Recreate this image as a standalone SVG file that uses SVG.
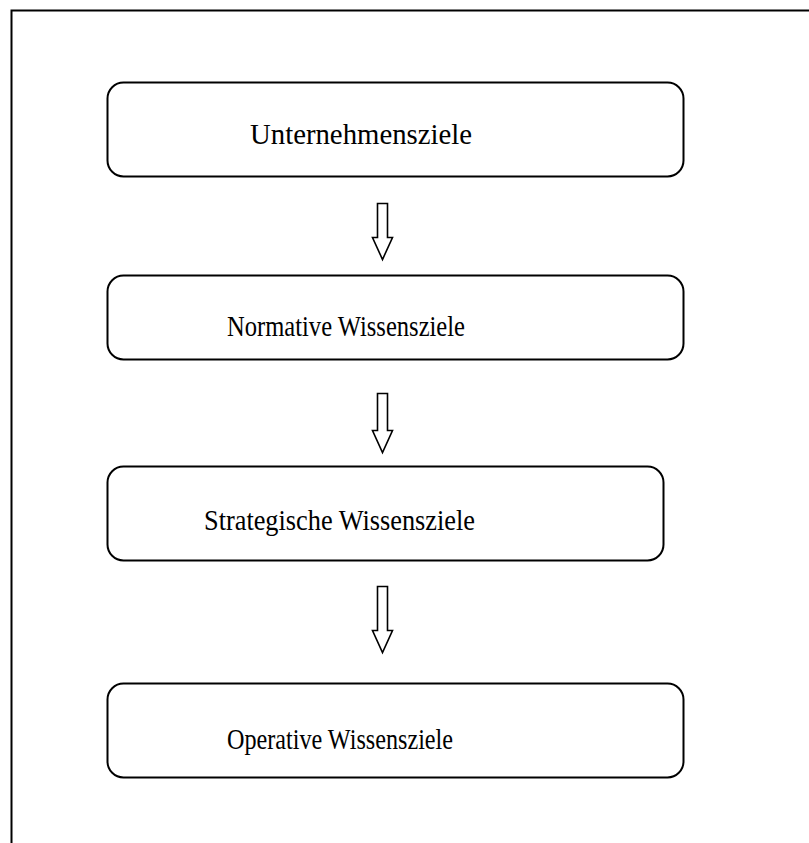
<svg xmlns="http://www.w3.org/2000/svg" width="809" height="843" viewBox="0 0 809 843">
  <style>
    .frame { fill: none; stroke: #000; stroke-width: 2; }
    .box { fill: #fff; stroke: #000; stroke-width: 2; }
    .label { font-family: "Liberation Serif", "Times New Roman", serif; font-size: 30px; fill: #000; }
    .arrow { fill: #fff; stroke: #000; stroke-width: 1.6; stroke-linejoin: miter; }
  </style>
  <rect width="809" height="843" fill="#fff"/>
  <!-- outer frame, open at right and bottom -->
  <path class="frame" d="M11.5,843 V10.5 H809"/>

  <g id="unternehmensziele">
    <rect class="box" x="107.5" y="82.5" width="576" height="94" rx="16"/>
    <text class="label" x="250" y="144" textLength="222" lengthAdjust="spacingAndGlyphs">Unternehmensziele</text>
  </g>
  <g id="normative">
    <rect class="box" x="107.5" y="275.5" width="576" height="84" rx="16"/>
    <text class="label" x="227" y="336" textLength="238" lengthAdjust="spacingAndGlyphs">Normative Wissensziele</text>
  </g>
  <g id="strategische">
    <rect class="box" x="107.5" y="466.5" width="556" height="94" rx="16"/>
    <text class="label" x="204" y="530" textLength="271" lengthAdjust="spacingAndGlyphs">Strategische Wissensziele</text>
  </g>
  <g id="operative">
    <rect class="box" x="107.5" y="683.5" width="576" height="94" rx="16"/>
    <text class="label" x="227" y="749" textLength="226" lengthAdjust="spacingAndGlyphs">Operative Wissensziele</text>
  </g>

  <g id="connectors">
    <path class="arrow" d="M377.5,203.5 H387.5 V237.5 H392.5 L382.5,259.5 L372.5,237.5 H377.5 Z"/>
    <path class="arrow" d="M377.5,393.5 H387.5 V430.5 H392.5 L382.5,452.5 L372.5,430.5 H377.5 Z"/>
    <path class="arrow" d="M377.5,586.5 H387.5 V630.5 H392.5 L382.5,652.5 L372.5,630.5 H377.5 Z"/>
  </g>
</svg>
